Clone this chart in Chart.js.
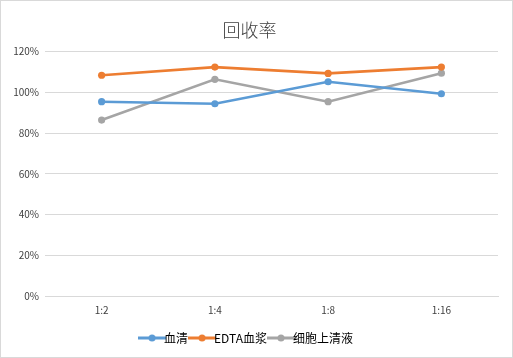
<!doctype html>
<html lang="zh">
<head>
<meta charset="UTF-8" />
<title>回收率</title>
<style>
  html,body{margin:0;padding:0;background:#fff;}
  #wrap{position:relative;width:511px;height:356px;border:1px solid #d9d9d9;}
</style>
</head>
<body>
<div id="wrap"><canvas id="canvas" width="511" height="356"></canvas></div>
<script src="https://cdn.jsdelivr.net/npm/chart.js"></script>
<script>
// data (percent)
const categories = ['1:2', '1:4', '1:8', '1:16']
const serum = [95.4, 94.4, 105.2, 99.3]
const edtaPlasma = [108.4, 112.4, 109.3, 112.4]
const supernatant = [86.4, 106.4, 95.4, 109.4]
const seriesNames = ['血清', 'EDTA血浆', '细胞上清液']
const colors = ['#5B9BD5', '#ED7D31', '#A5A5A5']

const font = '"Noto Sans CJK SC", "Liberation Sans", sans-serif'

// little line+dot swatch for the legend, like Excel
function swatch(color){
  let c = document.createElement('canvas')
  c.width = 28; c.height = 10
  let g = c.getContext('2d')
  g.strokeStyle = color; g.lineWidth = 3
  g.beginPath(); g.moveTo(0,5); g.lineTo(28,5); g.stroke()
  g.fillStyle = color
  g.beginPath(); g.arc(14,5,3.5,0,Math.PI*2); g.fill()
  return c
}

function ds(label, data, color){
  return {
    label: label,
    data: data,
    borderColor: color,
    backgroundColor: color,
    borderWidth: 2.6,
    pointRadius: 3.6,
    pointBorderWidth: 0,
    pointHoverRadius: 4,
    tension: 0,
    pointStyle: 'circle'
  }
}

const swatches = colors.map(swatch)

new Chart(document.getElementById('canvas'), {
  type: 'line',
  data: {
    labels: categories,
    datasets: [
      ds(seriesNames[0], serum, colors[0]),
      ds(seriesNames[1], edtaPlasma, colors[1]),
      ds(seriesNames[2], supernatant, colors[2])
    ]
  },
  options: {
    responsive: false,
    animation: false,
    layout: { padding: { left: 0, right: 14, top: 0, bottom: 3 } },
    plugins: {
      tooltip: { enabled: false },
      title: {
        display: true,
        text: '回收率',
        color: '#404040',
        font: { family: font, size: 18, weight: 300 },
        padding: { top: 18, bottom: 11 }
      },
      legend: {
        position: 'bottom',
        labels: {
          color: '#000000',
          font: { family: font, size: 12 },
          usePointStyle: true,
          boxWidth: 28,
          boxHeight: 10,
          padding: 8,
          generateLabels: chart => chart.data.datasets.map((d, i) => ({
            text: d.label,
            fillStyle: colors[i],
            strokeStyle: colors[i],
            pointStyle: swatches[i],
            lineWidth: 0,
            datasetIndex: i,
            hidden: false
          }))
        }
      }
    },
    scales: {
      x: {
        offset: true,
        grid: { display: false, drawTicks: false },
        border: { display: true, color: '#d9d9d9' },
        ticks: { color: '#404040', font: { family: font, size: 10 }, padding: 8 }
      },
      y: {
        min: 0, max: 120,
        afterFit: s => { s.width = 44 },
        grid: { color: '#d9d9d9', drawTicks: false },
        border: { display: false },
        ticks: {
          stepSize: 20,
          color: '#404040',
          padding: 6,
          font: { family: font, size: 10 },
          callback: v => v + '%'
        }
      }
    }
  }
})
</script>
</body>
</html>
